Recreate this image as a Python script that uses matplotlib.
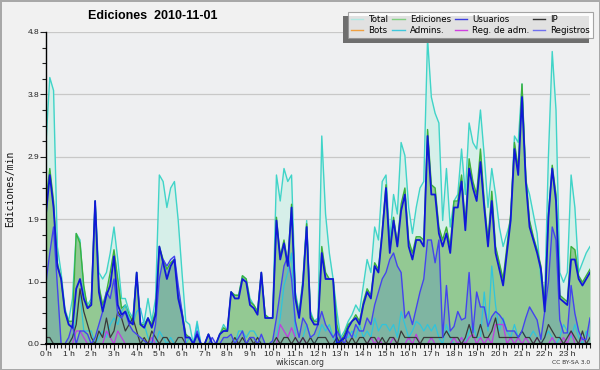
import matplotlib
matplotlib.use("Agg")
import matplotlib.pyplot as plt
import numpy as np
from matplotlib.lines import Line2D
from matplotlib.patches import Rectangle

# 10-minute samples, 0h .. 24h (145 points)
total = [3.1, 4.1, 3.9, 1.5, 1.1, 0.55,
         0.35, 0.7, 1.7, 1.6, 0.8, 0.6,
         0.7, 2.2, 1.1, 1.0, 1.1, 1.4,
         1.8, 1.3, 0.7, 0.7, 0.5, 0.4,
         1.1, 0.3, 0.35, 0.7, 0.35, 0.7,
         2.6, 2.5, 2.1, 2.4, 2.5, 1.9,
         1.1, 0.35, 0.3, 0.0, 0.35, 0.0,
         0.0, 0.15, 0.0, 0.0, 0.15, 0.3,
         0.2, 0.8, 0.75, 0.75, 1.05, 1.0,
         0.7, 0.6, 0.5, 1.1, 0.45, 0.4,
         0.4, 2.6, 2.2, 2.7, 2.5, 2.6,
         0.8, 0.5, 1.0, 1.9, 0.5, 0.35,
         0.4, 3.2, 2.0, 1.4, 1.0, 0.5,
         0.1, 0.2, 0.35, 0.45, 0.6, 0.5,
         0.9, 1.3, 1.1, 1.8, 1.6, 2.5,
         2.6, 1.6, 2.3, 2.0, 3.1, 2.9,
         2.1, 1.7, 2.1, 2.4, 2.5, 4.7,
         3.8, 3.55, 3.4, 1.9, 2.7, 1.8,
         2.2, 2.3, 3.0, 2.3, 3.4, 3.1,
         3.0, 3.6, 2.9, 2.1, 2.7, 2.3,
         1.8, 1.5, 1.7, 1.9, 3.2, 3.1,
         4.0, 2.5, 2.3, 2.0, 1.7, 1.0,
         0.7, 2.9, 4.5, 3.6, 1.1, 0.95,
         1.1, 2.6, 2.1, 1.1, 1.25, 1.4,
         1.5]

ediciones = [2.2, 2.7, 2.2, 1.25, 1.0, 0.5,
             0.35, 0.35, 1.7, 1.55, 0.9, 0.55,
             0.65, 2.2, 0.9, 0.6, 0.8, 1.1,
             1.45, 1.0, 0.55, 0.6, 0.45, 0.35,
             1.1, 0.3, 0.3, 0.4, 0.3, 0.5,
             1.5, 1.3, 1.15, 1.25, 1.3, 0.75,
             0.5, 0.15, 0.1, 0.0, 0.15, 0.0,
             0.0, 0.15, 0.0, 0.0, 0.15, 0.25,
             0.2, 0.8, 0.75, 0.75, 1.05, 1.0,
             0.65, 0.6, 0.5, 1.1, 0.45, 0.4,
             0.4, 1.95, 1.35, 1.6, 1.25, 2.15,
             0.75, 0.45, 0.95, 1.85, 0.45, 0.35,
             0.35, 1.5, 1.1, 1.0, 1.0, 0.3,
             0.05, 0.15, 0.3, 0.35, 0.45, 0.35,
             0.65, 0.85, 0.75, 1.25, 1.15, 1.75,
             2.45, 1.45, 1.95, 1.55, 2.15, 2.4,
             1.6, 1.4, 1.65, 1.65, 1.6, 3.3,
             2.45, 2.4, 1.8, 1.6, 1.8, 1.5,
             2.2, 2.2, 2.6, 1.85, 2.85, 2.5,
             2.3, 3.0, 2.2, 1.6, 2.35, 1.5,
             1.25, 1.0, 1.5, 2.0, 3.1, 2.7,
             4.0, 2.6, 1.9, 1.65, 1.45, 1.2,
             0.6, 2.0, 2.75, 2.3, 0.75, 0.7,
             0.65, 1.5, 1.45, 1.05, 0.95, 1.05,
             1.15]

usuarios = [2.0, 2.6, 2.1, 1.2, 1.0, 0.5,
            0.3, 0.25, 0.85, 1.0, 0.7, 0.55,
            0.6, 2.2, 0.8, 0.5, 0.75, 0.9,
            1.35, 0.6, 0.45, 0.5, 0.35, 0.3,
            1.1, 0.3, 0.25, 0.4, 0.25, 0.45,
            1.5, 1.25, 1.0, 1.2, 1.3, 0.7,
            0.45, 0.1, 0.1, 0.0, 0.15, 0.0,
            0.0, 0.15, 0.0, 0.0, 0.15, 0.2,
            0.2, 0.8, 0.7, 0.7, 1.0, 0.95,
            0.6, 0.55, 0.45, 1.1, 0.4, 0.4,
            0.4, 1.9, 1.3, 1.55, 1.2, 2.1,
            0.7, 0.4, 0.9, 1.8, 0.4, 0.3,
            0.3, 1.4, 1.0, 1.0, 1.0, 0.0,
            0.05, 0.1, 0.25, 0.35, 0.4, 0.3,
            0.6, 0.8, 0.7, 1.2, 1.1, 1.7,
            2.4, 1.4, 1.9, 1.5, 2.05, 2.3,
            1.5, 1.3, 1.6, 1.6, 1.5, 3.2,
            2.3, 2.3, 1.7, 1.5, 1.7, 1.4,
            2.1, 2.1, 2.5, 1.75, 2.7, 2.4,
            2.2, 2.8, 2.1, 1.5, 2.2, 1.4,
            1.15, 0.9, 1.4, 1.9, 3.0, 2.6,
            3.8, 2.5, 1.8, 1.6, 1.4, 1.15,
            0.5, 1.95, 2.7, 2.2, 0.7, 0.65,
            0.6, 1.3, 1.3, 1.0, 0.9, 1.0,
            1.1]

ip = [0.1, 0.1, 0.0, 0.0, 0.0, 0.0,
      0.0, 0.1, 0.3, 0.85, 0.5, 0.3,
      0.1, 0.0, 0.2, 0.1, 0.4, 0.1,
      0.2, 0.5, 0.4, 0.2, 0.3, 0.4,
      0.2, 0.0, 0.1, 0.0, 0.2, 0.1,
      0.0, 0.1, 0.1, 0.0, 0.0, 0.1,
      0.1, 0.0, 0.0, 0.0, 0.0, 0.0,
      0.0, 0.0, 0.0, 0.0, 0.0, 0.0,
      0.0, 0.0, 0.1, 0.0, 0.1, 0.0,
      0.1, 0.0, 0.1, 0.0, 0.0, 0.0,
      0.0, 0.1, 0.0, 0.1, 0.1, 0.0,
      0.1, 0.0, 0.1, 0.0, 0.1, 0.0,
      0.1, 0.1, 0.1, 0.0, 0.0, 0.1,
      0.0, 0.1, 0.0, 0.1, 0.0, 0.1,
      0.1, 0.0, 0.1, 0.1, 0.0, 0.1,
      0.0, 0.1, 0.1, 0.0, 0.2, 0.1,
      0.1, 0.1, 0.1, 0.0, 0.1, 0.1,
      0.1, 0.1, 0.1, 0.1, 0.2, 0.1,
      0.1, 0.1, 0.0, 0.1, 0.3, 0.1,
      0.1, 0.3, 0.1, 0.1, 0.2, 0.4,
      0.1, 0.1, 0.1, 0.1, 0.1, 0.1,
      0.2, 0.1, 0.1, 0.0, 0.1, 0.0,
      0.1, 0.3, 0.2, 0.1, 0.1, 0.0,
      0.1, 0.2, 0.1, 0.0, 0.2, 0.0,
      0.1]

bots = [0.0] * 145

admins = [0.0, 0.0, 0.0, 0.0, 0.0, 0.0,
          0.0, 0.1, 0.4, 0.8, 0.2, 0.2,
          0.2, 0.0, 0.1, 0.2, 0.1, 0.3,
          0.4, 0.3, 0.5, 0.6, 0.4, 0.3,
          0.5, 0.55, 0.3, 0.1, 0.0, 0.0,
          0.2, 0.1, 0.0, 0.1, 0.0, 0.0,
          0.0, 0.0, 0.1, 0.0, 0.3, 0.0,
          0.0, 0.0, 0.0, 0.0, 0.0, 0.0,
          0.0, 0.0, 0.0, 0.2, 0.2, 0.1,
          0.2, 0.2, 0.1, 0.0, 0.0, 0.0,
          0.0, 0.1, 0.4, 0.9, 1.1, 1.4,
          0.1, 0.0, 0.1, 0.3, 0.1, 0.0,
          0.1, 0.3, 0.2, 0.3, 0.1, 0.0,
          0.0, 0.1, 0.1, 0.2, 0.1, 0.3,
          0.1, 0.2, 0.1, 0.4, 0.2, 0.3,
          0.3, 0.2, 0.3, 0.1, 0.5, 0.3,
          0.1, 0.2, 0.35, 0.3, 0.2, 0.3,
          0.2, 0.3, 0.1, 0.0, 0.3, 0.1,
          0.0, 0.0, 0.1, 0.0, 0.2, 0.3,
          0.1, 0.1, 0.8, 0.2, 1.2, 0.6,
          0.2, 0.4, 0.2, 0.1, 0.3, 0.1,
          0.2, 0.1, 0.1, 0.2, 0.1, 0.0,
          0.1, 0.2, 0.1, 0.0, 0.1, 0.3,
          0.2, 0.1, 0.3, 0.1, 0.0, 0.2,
          0.1]

reg_adm = [0.0, 0.0, 0.0, 0.0, 0.0, 0.0,
           0.0, 0.0, 0.2, 0.2, 0.1, 0.0,
           0.0, 0.0, 0.0, 0.0, 0.2, 0.1,
           0.0, 0.2, 0.1, 0.0, 0.0, 0.0,
           0.0, 0.0, 0.0, 0.0, 0.1, 0.0,
           0.0, 0.0, 0.0, 0.0, 0.0, 0.0,
           0.0, 0.0, 0.0, 0.0, 0.0, 0.0,
           0.0, 0.0, 0.0, 0.0, 0.0, 0.0,
           0.0, 0.0, 0.0, 0.0, 0.0, 0.0,
           0.0, 0.0, 0.0, 0.0, 0.0, 0.0,
           0.0, 0.0, 0.3, 0.2, 0.1, 0.25,
           0.1, 0.0, 0.1, 0.0, 0.0, 0.0,
           0.0, 0.0, 0.0, 0.0, 0.0, 0.0,
           0.0, 0.0, 0.0, 0.0, 0.0, 0.0,
           0.0, 0.0, 0.1, 0.0, 0.1, 0.0,
           0.0, 0.0, 0.1, 0.0, 0.0, 0.0,
           0.1, 0.0, 0.15, 0.0, 0.0, 0.0,
           0.1, 0.0, 0.0, 0.0, 0.0, 0.0,
           0.1, 0.0, 0.1, 0.0, 0.1, 0.15,
           0.0, 0.1, 0.0, 0.1, 0.0, 0.3,
           0.3, 0.3, 0.0, 0.1, 0.0, 0.1,
           0.0, 0.1, 0.0, 0.0, 0.1, 0.0,
           0.0, 0.0, 0.1, 0.0, 0.0, 0.1,
           0.0, 0.2, 0.0, 0.0, 0.1, 0.0,
           0.0]

registros = [0.95, 1.4, 1.8, 0.9, 0.0, 0.0,
             0.1, 0.3, 0.0, 0.2, 0.2, 0.15,
             0.0, 0.1, 0.3, 0.5, 0.8, 0.7,
             1.0, 0.45, 0.4, 0.5, 0.3, 0.2,
             0.15, 0.1, 0.05, 0.0, 0.0, 0.3,
             1.0, 1.3, 1.2, 1.3, 1.35, 0.9,
             0.5, 0.0, 0.0, 0.0, 0.2, 0.0,
             0.0, 0.0, 0.1, 0.0, 0.0, 0.1,
             0.1, 0.15, 0.0, 0.1, 0.2, 0.0,
             0.1, 0.1, 0.0, 0.15, 0.0, 0.0,
             0.05, 0.4, 0.8, 1.2, 1.35, 1.0,
             0.35, 0.1, 0.4, 0.3, 0.1, 0.15,
             0.3, 0.5, 0.3, 0.2, 0.1, 0.2,
             0.1, 0.0, 0.2, 0.1, 0.3, 0.2,
             0.2, 0.4, 0.3, 0.6, 0.8, 1.0,
             1.1, 1.3, 1.4, 1.2, 1.1, 0.4,
             0.5, 0.3, 0.55, 0.8, 1.0, 1.6,
             1.6, 1.25, 1.6, 0.1, 0.9, 0.2,
             0.27, 0.5, 0.37, 0.4, 1.1, 0.17,
             0.8, 0.57, 0.57, 0.27, 0.42, 0.5,
             0.45, 0.37, 0.2, 0.2, 0.2, 0.1,
             0.2, 0.4, 0.57, 0.47, 0.37, 0.07,
             0.5, 0.95, 1.8, 1.6, 0.37, 0.17,
             0.17, 0.9, 0.47, 0.2, 0.07, 0.07,
             0.4]

hour_labels = [f"{h} h" for h in range(24)]
ytick_vals = [0.0, 0.96, 1.92, 2.88, 3.84, 4.8]
ytick_labels = ["0.0", "1.0", "1.9", "2.9", "3.8", "4.8"]

x = np.arange(len(total)) / 6.0

W, H = 600, 370
fig = plt.figure(figsize=(W / 100, H / 100), dpi=100, facecolor="#f1f1f1",
                 linewidth=2, edgecolor="#a8a8a8")
ax = fig.add_axes([46 / W, 26 / H, (590 - 46) / W, (344 - 32) / H])
ax.set_facecolor("#eeeff1")

# fills
ax.fill_between(x, total, color="#d6efe9", zorder=1, lw=0)
ax.fill_between(x, ediciones, color="#93c993", zorder=2, lw=0)
ax.fill_between(x, registros, color="#3a70d8", alpha=0.22, zorder=3, lw=0)

# lines
ax.plot(x, total, color="#40d4c8", lw=1.0, zorder=4)
ax.plot(x, ediciones, color="#3cb03c", lw=1.0, zorder=5)
ax.plot(x, bots, color="#f0a030", lw=0.8, zorder=5)
ax.plot(x, admins, color="#30c4dc", lw=0.9, zorder=6)
ax.plot(x, reg_adm, color="#c03ce0", lw=0.9, zorder=6)
ax.plot(x, ip, color="#3a3a3a", lw=0.9, zorder=6)
ax.plot(x, registros, color="#4444ee", lw=1.0, zorder=7)
ax.plot(x, usuarios, color="#1018d8", lw=1.3, zorder=8)

ax.set_xlim(0, 24)
ax.set_ylim(0, 4.8)

tick_font = {"family": "Liberation Sans", "size": 6}
ax.set_yticks(ytick_vals)
ax.set_yticklabels(ytick_labels, fontdict=tick_font)
ax.set_yticks(np.arange(0, 4.81, 0.24), minor=True)
ax.set_xticks(range(24))
ax.set_xticklabels(hour_labels, fontdict=tick_font)
ax.set_xticks(np.arange(0, 24.01, 1 / 6), minor=True)
ax.tick_params(axis="both", which="major", colors="#222",
               length=4, width=0.8, pad=1)
ax.tick_params(axis="both", which="minor", length=3, width=0.8, color="#222")

ax.grid(axis="y", which="major", color="#c8c8c8", lw=0.9, zorder=0)
ax.set_axisbelow(True)
for s in ["top", "right"]:
    ax.spines[s].set_visible(False)
ax.spines["left"].set_linewidth(1.0)
ax.spines["bottom"].set_linewidth(1.5)
ax.spines["left"].set_zorder(10)
ax.spines["bottom"].set_zorder(10)

fig.text(10 / W, 1 - 189 / H, "Ediciones/min", fontsize=7, family="DejaVu Sans Mono",
         rotation=90, ha="center", va="center", color="#111")

fig.text(153 / W, 1 - 16 / H, "Ediciones  2010-11-01", fontsize=9,
         fontweight="bold", family="Liberation Sans", ha="center", va="center")
fig.text(300 / W, 1 - 362.5 / H, "wikiscan.org", fontsize=5.6, ha="center",
         va="center", color="#333")
fig.text(590 / W, 1 - 363 / H, "CC BY-SA 3.0", fontsize=4.3, ha="right",
         va="center", color="#333")

# legend with shadow (down-left)
fig.patches.append(Rectangle((343 / W, 1 - 43 / H), (589 - 343) / W, (43 - 16) / H,
                             transform=fig.transFigure, facecolor="#6e6e6e",
                             edgecolor="none", zorder=5))
handles = [
    Line2D([], [], color="#b0e8e2", lw=1), Line2D([], [], color="#f0a040", lw=1),
    Line2D([], [], color="#80d080", lw=1), Line2D([], [], color="#40c8dc", lw=1),
    Line2D([], [], color="#3c3ce0", lw=1), Line2D([], [], color="#d040e0", lw=1),
    Line2D([], [], color="#303030", lw=1), Line2D([], [], color="#7070f0", lw=1),
]
labels = ["Total", "Bots", "Ediciones", "Admins.", "Usuarios", "Reg. de adm.",
          "IP", "Registros"]
leg = fig.legend(handles, labels, ncol=4, loc="upper right",
                 bbox_to_anchor=(593 / W, 1 - 12 / H), prop={"size": 6.2},
                 frameon=True, fancybox=False, shadow=False,
                 handlelength=1.4, handletextpad=0.6, columnspacing=0.45,
                 borderpad=0.35, labelspacing=0.2, borderaxespad=0)
leg.set_zorder(6)
leg.get_frame().set_edgecolor("#909090")
leg.get_frame().set_linewidth(0.8)
leg.get_frame().set_facecolor("white")

fig.savefig("out.png", dpi=100, facecolor=fig.get_facecolor(), edgecolor=fig.get_edgecolor())
